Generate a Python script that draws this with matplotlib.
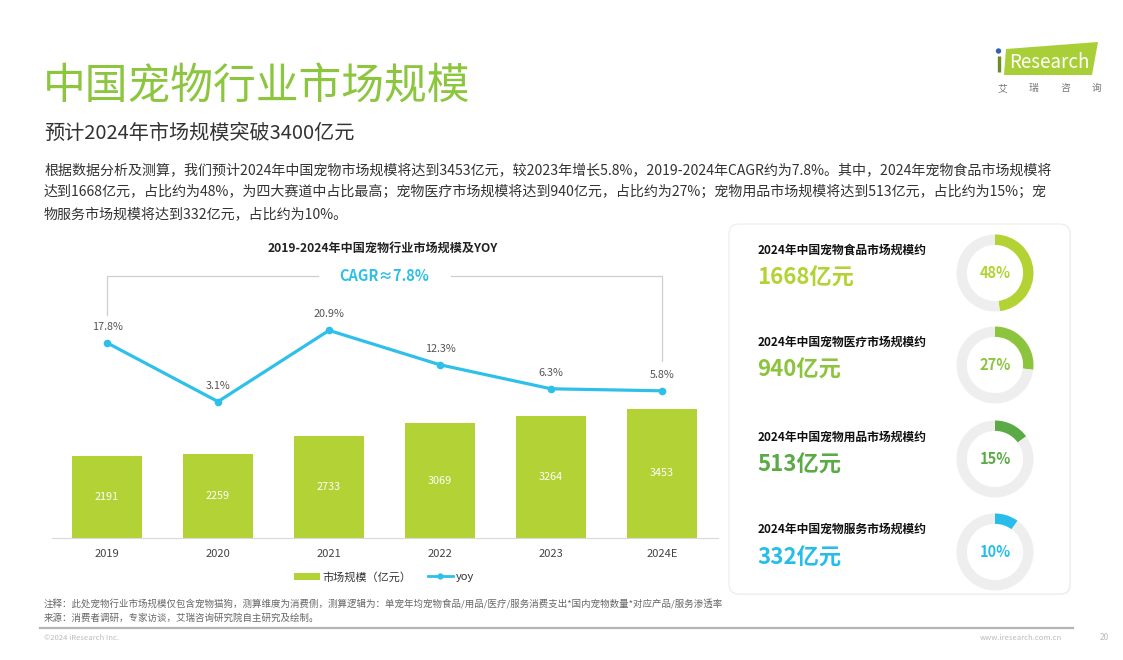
import matplotlib
matplotlib.use('Agg')
import matplotlib.pyplot as plt
from matplotlib.patches import FancyBboxPatch, Polygon, Patch, Circle
from matplotlib.lines import Line2D

plt.rcParams['font.family'] = ['Noto Sans CJK SC', 'DejaVu Sans']

W, H = 1123, 660

years = ['2019', '2020', '2021', '2022', '2023', '2024E']
market = [2191, 2259, 2733, 3069, 3264, 3453]
yoy = [17.8, 3.1, 20.9, 12.3, 6.3, 5.8]

seg_names = ['食品', '医疗', '用品', '服务']
seg_values = [1668, 940, 513, 332]
seg_share = [48, 27, 15, 10]
seg_colors = ['#b3d234', '#8cc43e', '#5aaa46', '#27bdea']

bar_color = '#b2d235'
line_color = '#2ec0e9'
green_title = '#8cc63f'

fig = plt.figure(figsize=(W / 100, H / 100), dpi=100)

# background axes in pixel units for texts and decorations
bg = fig.add_axes([0, 0, 1, 1])
bg.set_xlim(0, W)
bg.set_ylim(H, 0)
bg.axis('off')


def txt(x, y, s, **kw):
    kw.setdefault('va', 'center')
    bg.text(x, y, s, **kw)


# header
txt(43, 88, '中国宠物行业市场规模', fontsize=30.8, color=green_title)
txt(44, 133, '预计2024年市场规模突破3400亿元', fontsize=14.5, color='#333333')
para = ['根据数据分析及测算，我们预计2024年中国宠物市场规模将达到3453亿元，较2023年增长5.8%，2019-2024年CAGR约为7.8%。其中，2024年宠物食品市场规模将',
        '达到1668亿元，占比约为48%，为四大赛道中占比最高；宠物医疗市场规模将达到940亿元，占比约为27%；宠物用品市场规模将达到513亿元，占比约为15%；宠',
        '物服务市场规模将达到332亿元，占比约为10%。']
for i, line in enumerate(para):
    txt(44, 170 + i * 22, line, fontsize=10.1, color='#333333')

# logo
bg.add_patch(Polygon([(1006, 49), (1098, 42), (1092, 75), (1004, 75)], closed=True,
                     facecolor='#a9cf38', edgecolor='none'))
bg.add_patch(Circle((998.5, 51), 2.7, facecolor='#2f63b0', edgecolor='none'))
bg.plot([998.5, 998.5], [56, 72], color='#6b8e23', lw=2.4, solid_capstyle='butt')
txt(1049, 62, 'Research', fontsize=13.5, color='white', ha='center')
for k, ch in enumerate('艾瑞咨询'):
    txt(1002 + k * 31.5, 88, ch, fontsize=7, color='#777777', ha='center')

# chart title
txt(383, 248, '2019-2024年中国宠物行业市场规模及YOY', fontsize=8.7, fontweight='bold',
    color='#222222', ha='center')

# bar chart
ax = fig.add_axes([51.5 / W, 1 - 538 / H, 666 / W, 258 / H])
x = list(range(len(years)))
ax.bar(x, market, width=0.63, color=bar_color, zorder=2)
ax.set_xlim(-0.5, len(years) - 0.5)
ax.set_ylim(0, 258 / 0.0374)
for s in ['top', 'right', 'left']:
    ax.spines[s].set_visible(False)
ax.spines['bottom'].set_color('#d9d9d9')
ax.set_yticks([])
ax.set_xticks(x)
ax.set_xticklabels(years, fontsize=8, color='#444444')
ax.tick_params(axis='x', length=0, pad=8)
ax.patch.set_alpha(0)
for i, v in enumerate(market):
    ax.text(i, v / 2, str(v), color='white', ha='center', va='center', fontsize=7.8)

ax2 = ax.twinx()
ax2.plot(x, yoy, color=line_color, lw=2.3, marker='o', ms=4.5, zorder=3)
ax2.set_ylim(-31, 33.5)
ax2.set_yticks([])
for s in ax2.spines.values():
    s.set_visible(False)
for i, v in enumerate(yoy):
    ax2.text(i, v + 4, f'{v}%', ha='center', va='center', fontsize=7.8, color='#555555')

# CAGR bracket
top = 34.4
gc = '#cfcfcf'
ax2.plot([0, 0, 1.9], [yoy[0] + 7, top, top], color=gc, lw=0.9, clip_on=False)
ax2.plot([3.1, 5, 5], [top, top, yoy[-1] + 7.5], color=gc, lw=0.9, clip_on=False)
ax2.text(2.5, top, 'CAGR≈7.8%', ha='center', va='center', fontsize=10.5,
         fontweight='bold', color=line_color, clip_on=False)

# legend
handles = [Patch(facecolor=bar_color, edgecolor='none'),
           Line2D([0], [0], color=line_color, lw=2, marker='o', ms=3.5)]
fig.legend(handles, ['市场规模（亿元）', 'yoy'], loc='center', ncol=2,
           bbox_to_anchor=(384 / W, 1 - 577 / H), frameon=False, fontsize=8,
           handlelength=2.3, handletextpad=0.2, columnspacing=1.5, labelcolor='#333333')

# notes
txt(44, 604, '注释：此处宠物行业市场规模仅包含宠物猫狗，测算维度为消费侧，测算逻辑为：单宠年均宠物食品/用品/医疗/服务消费支出*国内宠物数量*对应产品/服务渗透率',
    fontsize=6.8, color='#666666')
txt(44, 618, '来源：消费者调研，专家访谈，艾瑞咨询研究院自主研究及绘制。', fontsize=6.8, color='#666666')

# footer
bg.plot([40, 1073], [628, 628], color='#b5b5b5', lw=1.6)
txt(44, 638, '©2024 iResearch Inc.', fontsize=5.5, color='#bbbbbb')
txt(1062, 638, 'www.iresearch.com.cn', fontsize=5.5, color='#bbbbbb', ha='right')
txt(1104, 638, '20', fontsize=6, color='#bbbbbb', ha='center')

# right panel
bg.add_patch(FancyBboxPatch((730, 225), 341, 370, boxstyle='round,pad=0,rounding_size=10',
                            facecolor='#f3f3f3', edgecolor='none'))
bg.add_patch(FancyBboxPatch((729, 224), 341, 370, boxstyle='round,pad=0,rounding_size=10',
                            facecolor='white', edgecolor='#ececec', lw=0.8))

label_y = [250, 342, 437, 529]
value_y = [278, 370, 465, 558]
donut_y = [273, 365, 459, 552]
r = 38.5
for name, val, share, c, ly, vy, dy in zip(seg_names, seg_values, seg_share, seg_colors,
                                            label_y, value_y, donut_y):
    txt(758, ly, f'2024年中国宠物{name}市场规模约', fontsize=8.5, fontweight='bold', color='#111111')
    txt(757, vy, f'{val}亿元', fontsize=16, fontweight='bold', color=c)
    dax = fig.add_axes([(995 - r) / W, 1 - (dy + r) / H, 2 * r / W, 2 * r / H])
    dax.pie([share, 100 - share], colors=[c, '#eeeeee'], startangle=90, counterclock=False,
            wedgeprops=dict(width=0.27, edgecolor='none'))
    dax.set_xlim(-1, 1)
    dax.set_ylim(-1, 1)
    dax.set_aspect('equal')
    dax.text(0, 0, f'{share}%', ha='center', va='center', fontsize=10.5, fontweight='bold', color=c)

fig.savefig('out.png', dpi=100)
